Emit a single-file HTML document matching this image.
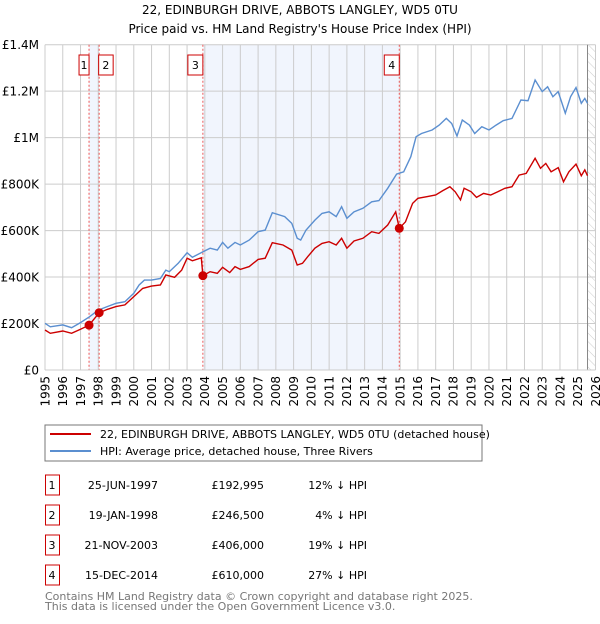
<!DOCTYPE html>
<html><head><meta charset="utf-8"><style>
body{margin:0;background:#fff;font-family:"DejaVu Sans","Liberation Sans",sans-serif;}
svg text{font-family:"DejaVu Sans","Liberation Sans",sans-serif;}
</style></head><body>
<svg id="chart" width="600" height="620">
<defs><pattern id="hatch" width="6" height="6" patternUnits="userSpaceOnUse" patternTransform="rotate(-45)"><line x1="0" y1="0" x2="0" y2="6" stroke="#ccc" stroke-width="1"/></pattern></defs>
<text x="300" y="14" text-anchor="middle" font-size="12">22, EDINBURGH DRIVE, ABBOTS LANGLEY, WD5 0TU</text>
<text x="300" y="33" text-anchor="middle" font-size="12">Price paid vs. HM Land Registry's House Price Index (HPI)</text>
<g id="plot"></g>
<rect x="45" y="425" width="437" height="36" fill="none" stroke="#777"/>
<line x1="50" y1="434" x2="91" y2="434" stroke="#cc0000" stroke-width="2"/>
<text x="100" y="438" font-size="11">22, EDINBURGH DRIVE, ABBOTS LANGLEY, WD5 0TU (detached house)</text>
<line x1="50" y1="451" x2="91" y2="451" stroke="#5b8fd0" stroke-width="2"/>
<text x="100" y="455" font-size="11">HPI: Average price, detached house, Three Rivers</text>
<g id="table" font-size="11"></g>
<text x="45" y="600" font-size="11" fill="#777">Contains HM Land Registry data © Crown copyright and database right 2025.</text>
<text x="45" y="610" font-size="11" fill="#777">This data is licensed under the Open Government Licence v3.0.</text>
</svg>
<script>
const hpiYears=[1995.0,1995.3,1996,1996.5,1997,1997.5,1998,1998.5,1999,1999.5,2000,2000.3,2000.6,2001,2001.5,2001.8,2002,2002.5,2003,2003.3,2003.9,2004.3,2004.7,2005,2005.3,2005.7,2006,2006.5,2007,2007.4,2007.8,2008.5,2008.9,2009.2,2009.4,2009.7,2010.2,2010.6,2011,2011.4,2011.7,2012,2012.4,2012.9,2013.4,2013.8,2014.3,2014.8,2015.2,2015.6,2015.9,2016.2,2016.8,2017.2,2017.6,2017.9,2018.2,2018.5,2018.9,2019.2,2019.6,2020.0,2020.4,2020.8,2021.3,2021.8,2022.2,2022.6,2023.0,2023.3,2023.6,2023.9,2024.3,2024.6,2024.9,2025.2,2025.4,2025.55];
const hpiValues=[201,186,194,182,204,229,258,273,287,294,330,366,387,387,394,430,423,459,505,485,509,524,516,549,524,549,538,559,595,602,677,660,631,567,559,602,645,674,681,660,703,653,681,696,724,729,782,843,853,918,1004,1018,1033,1054,1083,1061,1007,1076,1054,1018,1047,1033,1054,1073,1083,1162,1159,1248,1198,1219,1176,1198,1105,1176,1216,1148,1169,1148];
const propYears=[1995.0,1995.3,1996,1996.5,1997,1997.48,1998.05,1998.5,1999,1999.5,2000,2000.5,2001,2001.5,2001.8,2002.3,2002.7,2003,2003.3,2003.8,2003.89,2004.3,2004.7,2005,2005.4,2005.7,2006,2006.5,2007,2007.4,2007.8,2008.4,2008.9,2009.2,2009.5,2009.8,2010.2,2010.6,2011,2011.4,2011.7,2012,2012.4,2012.9,2013.4,2013.8,2014.3,2014.75,2014.95,2015.3,2015.7,2016.0,2016.5,2017.0,2017.4,2017.8,2018.1,2018.4,2018.6,2019.0,2019.3,2019.7,2020.1,2020.5,2020.9,2021.3,2021.7,2022.1,2022.6,2022.9,2023.2,2023.5,2023.9,2024.2,2024.5,2024.9,2025.2,2025.4,2025.55];
const propValues=[172,158,168,158,175,193,246,261,273,280,316,351,361,366,409,399,430,481,470,483,406,423,416,442,419,445,433,445,476,481,548,538,516,452,459,488,524,545,552,538,567,524,555,567,595,588,624,681,610,638,717,739,746,753,772,789,767,732,782,767,743,760,753,767,782,789,839,846,911,868,889,853,871,810,853,886,836,861,836];
const saleLabels=["1","2","3","4"];
const saleYears=[1997.48,1998.05,2003.89,2014.95];
const saleValues=[192995,246500,406000,610000];
const saleDates=["25-JUN-1997","19-JAN-1998","21-NOV-2003","15-DEC-2014"];
const salePrices=["£192,995","£246,500","£406,000","£610,000"];
const saleDiffs=["12% ↓ HPI","4% ↓ HPI","19% ↓ HPI","27% ↓ HPI"];
const yTicks=[0,200000,400000,600000,800000,1000000,1200000,1400000];
const yTickLabels=["£0","£200K","£400K","£600K","£800K","£1M","£1.2M","£1.4M"];
const NS="http://www.w3.org/2000/svg";
const X0=45,X1=595.5,Y0=370,Y1=44.7;
const xs=y=>X0+(y-1995)*(X1-X0)/31;
const ys=v=>Y0-v*(Y0-Y1)/1400000;
const plot=document.getElementById('plot');
function mk(tag,attrs,parent){const e=document.createElementNS(NS,tag);for(const k in attrs)e.setAttribute(k,attrs[k]);(parent||plot).appendChild(e);return e;}
let s=mk('rect',{x:xs(saleYears[0]),y:Y1,width:xs(saleYears[1])-xs(saleYears[0]),height:Y0-Y1,fill:'#eef2fc',opacity:0.8});


s=mk('rect',{x:xs(saleYears[2]),y:Y1,width:xs(saleYears[3])-xs(saleYears[2]),height:Y0-Y1,fill:'#eef2fc',opacity:0.8});


let h=mk('rect',{x:xs(2025.55),y:Y1,width:X1-xs(2025.55),height:Y0-Y1,fill:'url(#hatch)'});


for(let yr=1995;yr<=2026;yr++){const x=xs(yr);
 const g=mk('line',{x1:x,y1:Y1,x2:x,y2:Y0,stroke:'#ccc','stroke-width':1});
 
 
 const t=mk('text',{x:0,y:0,'font-size':12,'text-anchor':'end',transform:`translate(${x+4.3},376) rotate(-90)`});
 t.textContent=yr;
 
 
}
yTicks.forEach((v,i)=>{const y=ys(v);
 const g=mk('line',{x1:X0,y1:y,x2:X1,y2:y,stroke:'#ccc','stroke-width':1});
 
 
 const t=mk('text',{x:39,y:y+4.5,'font-size':12,'text-anchor':'end'});
 t.textContent=yTickLabels[i];
 
 
});
let ln=mk('line',{x1:xs(2025.55),y1:Y1,x2:xs(2025.55),y2:Y0,stroke:'#888','stroke-width':1});


saleYears.forEach((yr,i)=>{const x=xs(yr);
 const l=mk('line',{x1:x,y1:Y1,x2:x,y2:Y0,stroke:'#e55','stroke-width':1,'stroke-dasharray':'2,2'});
 
 
 let bx=x-15;
 if(i===1)bx=x-0.5;
 if(i===0)bx=x-10;
 const w=i===1?14.5:(i===0?10:15);
 const r=mk('rect',{x:bx,y:55,width:w,height:20,fill:'#fff',stroke:'#cc0000','stroke-width':1});
 
 
 const t=mk('text',{x:bx+w/2,y:69,'font-size':11,'text-anchor':'middle'});
 t.textContent=saleLabels[i];
 
 
});
function path(xa,va){return xa.map((x,i)=>(i?'L':'M')+xs(x).toFixed(1)+','+ys(va[i]*1000).toFixed(1)).join('');}
const hp=mk('path',{d:path(hpiYears,hpiValues),fill:'none',stroke:'#5b8fd0','stroke-width':1.4});


const pp=mk('path',{d:path(propYears,propValues),fill:'none',stroke:'#cc0000','stroke-width':1.4});


saleYears.forEach((yr,i)=>{
 const c=mk('circle',{cx:xs(yr),cy:ys(saleValues[i]),r:4.5,fill:'#cc0000'});
 
 
});
const ax=mk('line',{x1:X0,y1:Y0,x2:X1,y2:Y0,stroke:'#ccc'});


const tb=document.getElementById('table');
saleLabels.forEach((lb,i)=>{const yc=485+i*30;
 const r=mk('rect',{x:45.5,y:yc-10,width:14,height:20,fill:'#fff',stroke:'#cc0000'},tb);
 
 
 const cells=[[52,lb,'middle'],[158,saleDates[i],'end'],[264,salePrices[i],'end'],[367,saleDiffs[i],'end']];
 cells.forEach(c=>{const t=mk('text',{x:c[0],y:yc+4,'text-anchor':c[2]},tb);
  t.textContent=c[1];
  
  });
});
</script>
</body></html>
